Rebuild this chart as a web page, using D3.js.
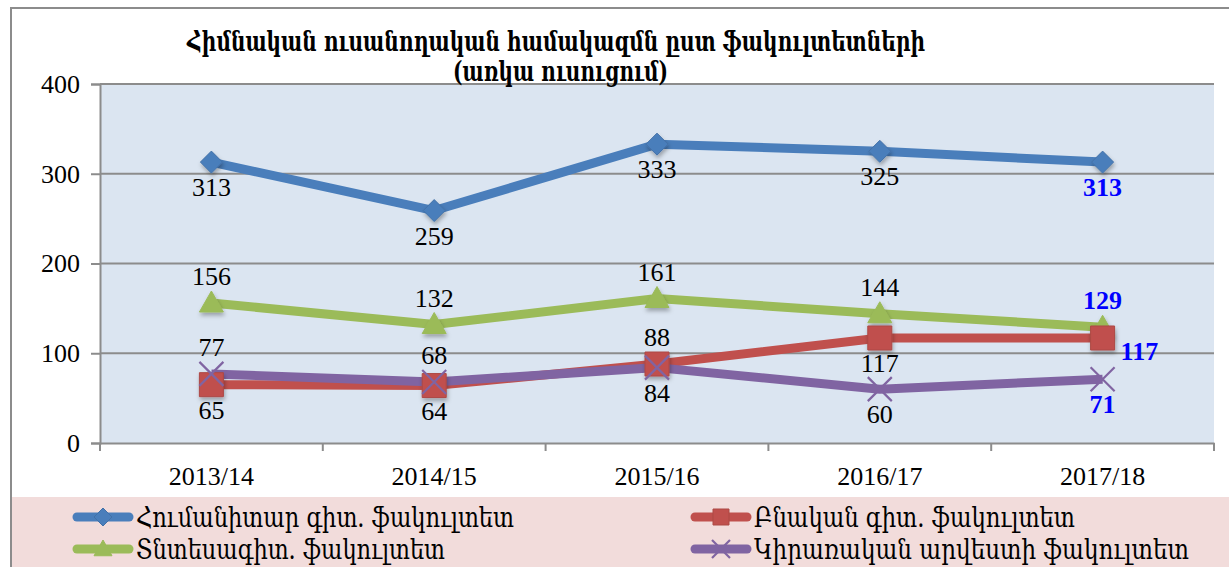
<!DOCTYPE html>
<html>
<head>
<meta charset="utf-8">
<script src="https://cdn.jsdelivr.net/npm/d3@7"></script>
<style>
  body { margin: 0; background: #fff; }
  svg { display: block; }
  text { font-family: "Liberation Serif", "DejaVu Serif", serif; }
</style>
</head>
<body>
<div id="chart"></div>
<script>
// data
const years = ['2013/14', '2014/15', '2015/16', '2016/17', '2017/18'];
const humanitarian = [313, 259, 333, 325, 313];
const natural = [65, 64, 88, 117, 117];
const economics = [156, 132, 161, 144, 129];
const appliedArts = [77, 68, 84, 60, 71];
const seriesNames = ['Հումանիտար գիտ. ֆակուլտետ', 'Բնական գիտ. ֆակուլտետ',
    'Տնտեսագիտ. ֆակուլտետ', 'Կիրառական արվեստի ֆակուլտետ'];
const yTicks = [0, 100, 200, 300, 400];
const titleLines = ['Հիմնական ուսանողական համակազմն ըստ ֆակուլտետների', '(առկա ուսուցում)'];

// label placement per point: 'above', 'below', 'right'
const labelPos = {
    humanitarian: ['below', 'below', 'below', 'below', 'below'],
    natural: ['below', 'below', 'above', 'below', 'right'],
    economics: ['above', 'above', 'above', 'above', 'above'],
    appliedArts: ['above', 'above', 'below', 'below', 'below']
};

const series = [
    {key: 'humanitarian', name: seriesNames[0], values: humanitarian, color: '#4a7ebb', marker: 'diamond'},
    {key: 'natural', name: seriesNames[1], values: natural, color: '#c0504d', marker: 'square'},
    {key: 'economics', name: seriesNames[2], values: economics, color: '#9bbb59', marker: 'triangle'},
    {key: 'appliedArts', name: seriesNames[3], values: appliedArts, color: '#8064a2', marker: 'cross'}
];

const W = 1229, H = 567;
const plot = {left: 100, right: 1214, top: 84, bottom: 443};

const svg = d3.select('#chart').append('svg')
    .attr('width', W)
    .attr('height', H);

// outer frame
svg.append('rect')
    .attr('x', 11).attr('y', 8)
    .attr('width', W + 10).attr('height', H)
    .attr('fill', '#fff')
    .attr('stroke', '#8c8c8c')
    .attr('stroke-width', 2);

// legend band
svg.append('rect')
    .attr('x', 12).attr('y', 497)
    .attr('width', W - 12).attr('height', H - 497)
    .attr('fill', '#f2dcdb');

const x = d3.scaleBand()
    .domain(years)
    .range([plot.left, plot.right]);

const y = d3.scaleLinear()
    .domain([0, 400])
    .range([plot.bottom, plot.top]);

// plot background
svg.append('rect')
    .attr('x', plot.left).attr('y', plot.top)
    .attr('width', plot.right - plot.left).attr('height', plot.bottom - plot.top)
    .attr('fill', '#dbe5f1');

// gridlines
svg.append('g').selectAll('line')
    .data(yTicks.filter(d => d > 0))
    .enter().append('line')
    .attr('x1', plot.left).attr('x2', plot.right)
    .attr('y1', d => y(d)).attr('y2', d => y(d))
    .attr('stroke', '#8c8c8c')
    .attr('stroke-width', 2);

// y axis
const yAxis = svg.append('g')
    .attr('transform', `translate(${plot.left},0)`)
    .call(d3.axisLeft(y).tickValues(yTicks).tickSize(9).tickPadding(11));
yAxis.select('.domain').attr('stroke', '#8c8c8c').attr('stroke-width', 2);
yAxis.selectAll('.tick line').attr('stroke', '#8c8c8c').attr('stroke-width', 2);
yAxis.selectAll('.tick text')
    .attr('font-size', 26)
    .attr('fill', '#000')
    .style('font-family', '"Liberation Serif", serif');

// x axis with ticks at band boundaries
const xAxis = svg.append('g')
    .attr('transform', `translate(0,${plot.bottom})`)
    .call(d3.axisBottom(x).tickSize(0).tickPadding(24));
xAxis.select('.domain').attr('stroke', '#8c8c8c').attr('stroke-width', 2);
xAxis.selectAll('.tick text')
    .attr('font-size', 26)
    .attr('fill', '#000')
    .style('font-family', '"Liberation Serif", serif');
xAxis.selectAll('.bound')
    .data(years.map(d => x(d)).concat([plot.right]))
    .enter().append('line')
    .attr('class', 'bound')
    .attr('x1', d => d).attr('x2', d => d)
    .attr('y1', 0).attr('y2', 8)
    .attr('stroke', '#8c8c8c')
    .attr('stroke-width', 2);

const cx = d => x(d) + x.bandwidth() / 2;

// soft shadow for markers
const defs = svg.append('defs');
const filt = defs.append('filter').attr('id', 'shadow')
    .attr('x', '-50%').attr('y', '-50%').attr('width', '200%').attr('height', '200%');
filt.append('feDropShadow')
    .attr('dx', 1).attr('dy', 3).attr('stdDeviation', 2)
    .attr('flood-color', '#000').attr('flood-opacity', 0.3);

const line = d3.line()
    .x(d => cx(d.year))
    .y(d => y(d.value));

function markerPath(type, size) {
    const s = size / 2;
    if (type === 'diamond') return `M0,${-s}L${s},0L0,${s}L${-s},0Z`;
    if (type === 'square') return `M${-s},${-s}H${s}V${s}H${-s}Z`;
    if (type === 'triangle') return `M0,${-s}L${s},${s * 0.75}H${-s}Z`;
    return `M${-s},${-s}L${s},${s}M${s},${-s}L${-s},${s}`;
}

function drawMarker(g, s, size, shadow) {
    if (s.marker === 'cross') {
        g.append('path')
            .attr('d', markerPath('cross', size))
            .attr('stroke', s.color)
            .attr('stroke-width', 2.2)
            .attr('fill', 'none');
    } else {
        g.append('path')
            .attr('d', markerPath(s.marker, size))
            .attr('fill', s.color)
            .attr('stroke', s.marker === 'triangle' ? '#9bbb59' : d3.color(s.color).darker(0.3))
            .attr('stroke-width', 1)
            .attr('filter', shadow ? 'url(#shadow)' : null);
    }
}

const markerSize = {diamond: 22, square: 24, triangle: 24, cross: 24};

// lines (draw in order so later series on top)
const lineOrder = [series[0], series[2], series[1], series[3]];
lineOrder.forEach(s => {
    const pts = s.values.map((v, i) => ({year: years[i], value: v}));
    svg.append('path')
        .datum(pts)
        .attr('fill', 'none')
        .attr('stroke', s.color)
        .attr('stroke-width', 9)
        .attr('stroke-linejoin', 'round')
        .attr('d', line);
});

lineOrder.forEach(s => {
    s.values.forEach((v, i) => {
        const g = svg.append('g')
            .attr('transform', `translate(${cx(years[i])},${y(v)})`);
        drawMarker(g, s, markerSize[s.marker], true);
    });
});

// data labels
series.forEach(s => {
    s.values.forEach((v, i) => {
        const pos = labelPos[s.key][i];
        const last = i === years.length - 1;
        let lx = cx(years[i]), ly = y(v), anchor = 'middle';
        if (pos === 'above') ly -= 18;
        else if (pos === 'below') ly += 34;
        else { lx += 18; ly += 22; anchor = 'start'; }
        svg.append('text')
            .attr('x', lx).attr('y', ly)
            .attr('text-anchor', anchor)
            .attr('font-size', 26)
            .attr('font-weight', last ? 'bold' : 'normal')
            .attr('fill', last ? '#0000ff' : '#000')
            .text(v);
    });
});

// title
svg.append('text')
    .attr('x', 187).attr('y', 51)
    .attr('font-size', 27)
    .attr('font-weight', 'bold')
    .attr('textLength', 738)
    .attr('lengthAdjust', 'spacingAndGlyphs')
    .style('font-family', '"DejaVu Serif Condensed", "DejaVu Serif", serif')
    .text(titleLines[0]);
svg.append('text')
    .attr('x', 453).attr('y', 81)
    .attr('font-size', 27)
    .attr('font-weight', 'bold')
    .attr('textLength', 215)
    .attr('lengthAdjust', 'spacingAndGlyphs')
    .style('font-family', '"DejaVu Serif Condensed", "DejaVu Serif", serif')
    .text(titleLines[1]);

// legend
const legendPos = [
    {x: 73, y: 517, w: 378},
    {x: 691, y: 517, w: 321},
    {x: 73, y: 549, w: 309},
    {x: 691, y: 549, w: 435}
];
series.forEach((s, i) => {
    const p = legendPos[i];
    const g = svg.append('g').attr('transform', `translate(${p.x},${p.y})`);
    g.append('line')
        .attr('x1', 4).attr('x2', 56)
        .attr('stroke', s.color)
        .attr('stroke-width', 9)
        .attr('stroke-linecap', 'round');
    const mg = g.append('g').attr('transform', 'translate(30,0)');
    drawMarker(mg, s, s.marker === 'square' ? 16 : 18, false);
    g.append('text')
        .attr('x', 63).attr('y', 10)
        .attr('font-size', 27)
        .attr('textLength', p.w)
        .attr('lengthAdjust', 'spacingAndGlyphs')
        .style('font-family', '"DejaVu Serif Condensed", "DejaVu Serif", serif')
        .text(s.name);
});
</script>
</body>
</html>
